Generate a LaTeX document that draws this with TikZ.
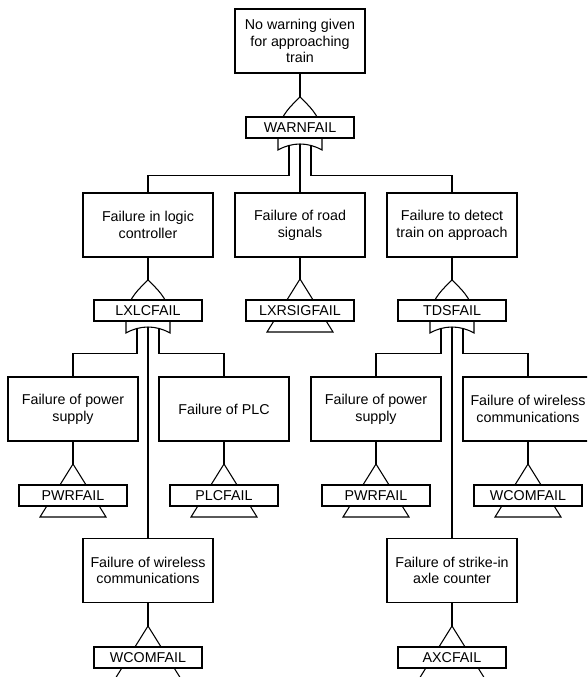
\documentclass[tikz,border=0pt]{standalone}
\usepackage{fontspec}
\setmainfont{Liberation Sans}
\usepackage{tikz}

\tikzset{
    event/.style={draw, fill=white, minimum width=97.5pt, minimum height=48pt, align=center, inner sep=2pt},
    tag/.style={draw, fill=white, minimum width=81pt, minimum height=15.75pt, inner sep=1pt},
    % puerta OR (origen en el borde superior de la etiqueta)
    orgate/.pic={
        \draw[fill=white] (0,-20) .. controls (8,-12) and (20,-2) .. (22,15) -- (22,33)
            .. controls (8,25) and (-8,25) .. (-22,33) -- (-22,15)
            .. controls (-20,-2) and (-8,-12) .. (0,-20) -- cycle;
        \coordinate (-in) at (0,-20);
        \coordinate (-out) at (0,27);
        \coordinate (-outl) at (-11,28.5);
        \coordinate (-outr) at (11,28.5);
    },
    % triangulo de transferencia
    xfer/.pic={
        \draw[fill=white] (0,-21) -- (33,32) -- (-33,32) -- cycle;
        \coordinate (-in) at (0,-21);
    }
}

\begin{document}
\begin{tikzpicture}[x=0.75pt, y=-0.75pt, line width=0.8pt, font=\fontsize{10.7}{12.5}\selectfont]
        \useasboundingbox (0,0) rectangle (587,677);
        \clip (0,0) rectangle (587,677);

        % Evento principal
        \node[event] (warn) at (300,41) {No warning given\\for approaching\\train};
        \pic (gwarn) at (300,117) {orgate};
        \node[tag] (twarn) at (300,127.5) {WARNFAIL};

        % Primer nivel
        \node[event] (logic) at (148,225) {Failure in logic\\controller};
        \node[event] (road) at (300,225) {Failure of road\\signals};
        \node[event] (detect) at (452,225) {Failure to detect\\train on approach};

        \pic (glogic) at (148,300) {orgate};
        \node[tag] (tlogic) at (148,310.5) {LXLCFAIL};
        \pic (groad) at (300,300) {xfer};
        \node[tag] (troad) at (300,310.5) {LXRSIGFAIL};
        \pic (gdetect) at (452,300) {orgate};
        \node[tag] (tdetect) at (452,310.5) {TDSFAIL};

        % Segundo nivel
        \node[event] (pwra) at (73,409) {Failure of power\\supply};
        \node[event] (plc) at (224,409) {Failure of PLC};
        \node[event] (pwrb) at (376,409) {Failure of power\\supply};
        \node[event] (wcomb) at (528,409) {Failure of wireless\\communications};

        \pic (gpwra) at (73,485) {xfer};
        \node[tag] (tpwra) at (73,495.5) {PWRFAIL};
        \pic (gplc) at (224,485) {xfer};
        \node[tag] (tplc) at (224,495.5) {PLCFAIL};
        \pic (gpwrb) at (376,485) {xfer};
        \node[tag] (tpwrb) at (376,495.5) {PWRFAIL};
        \pic (gwcomb) at (528,485) {xfer};
        \node[tag] (twcomb) at (528,495.5) {WCOMFAIL};

        % Tercer nivel
        \node[event] (wcoma) at (148,570.5) {Failure of wireless\\communications};
        \node[event] (axle) at (452,570.5) {Failure of strike-in\\axle counter};

        \pic (gwcoma) at (148,647) {xfer};
        \node[tag] (twcoma) at (148,657.5) {WCOMFAIL};
        \pic (gaxle) at (452,647) {xfer};
        \node[tag] (taxle) at (452,657.5) {AXCFAIL};

        % Conexiones
        \draw (warn.south) -- (gwarn-in);
        \draw (gwarn-outl) -- ++(0,30) -| (logic.north);
        \draw (gwarn-out) -- (road.north);
        \draw (gwarn-outr) -- ++(0,30) -| (detect.north);

        \draw (logic.south) -- (glogic-in);
        \draw (road.south) -- (groad-in);
        \draw (detect.south) -- (gdetect-in);

        \draw (glogic-outl) -- ++(0,25) -| (pwra.north);
        \draw (glogic-out) -- (wcoma.north);
        \draw (glogic-outr) -- ++(0,25) -| (plc.north);
        \draw (gdetect-outl) -- ++(0,25) -| (pwrb.north);
        \draw (gdetect-out) -- (axle.north);
        \draw (gdetect-outr) -- ++(0,25) -| (wcomb.north);

        \draw (pwra.south) -- (gpwra-in);
        \draw (plc.south) -- (gplc-in);
        \draw (pwrb.south) -- (gpwrb-in);
        \draw (wcomb.south) -- (gwcomb-in);
        \draw (wcoma.south) -- (gwcoma-in);
        \draw (axle.south) -- (gaxle-in);
    \end{tikzpicture}
\end{document}
